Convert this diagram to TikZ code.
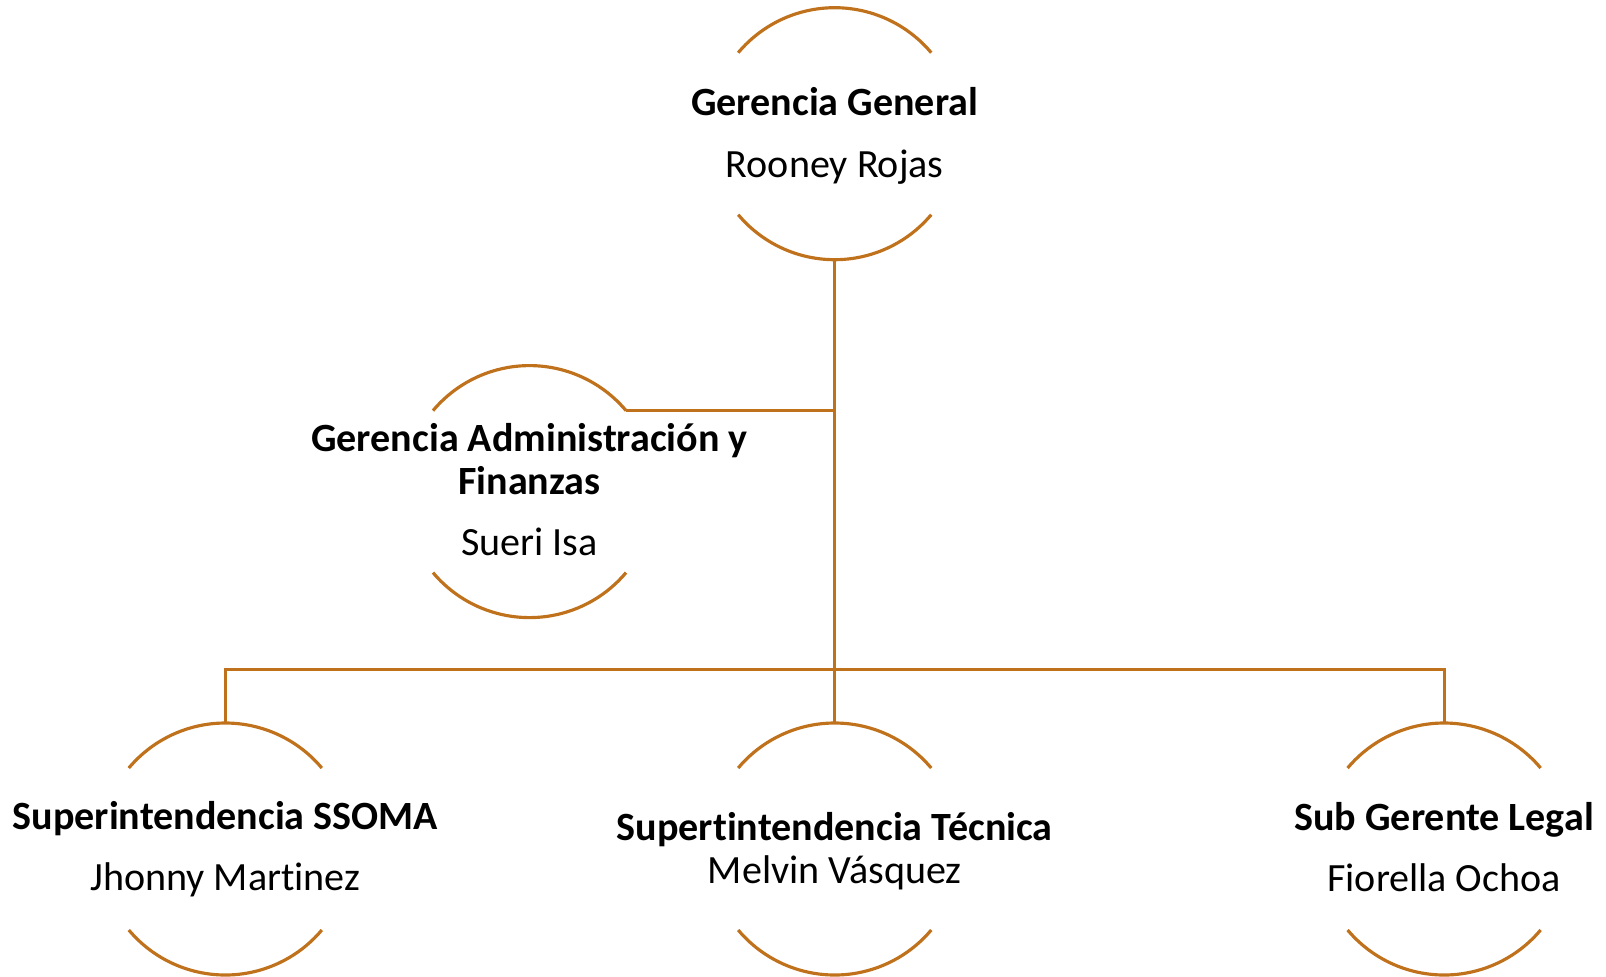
\documentclass[tikz,border=0pt]{standalone}
\usepackage{fontspec}
\setmainfont{Carlito}[Ligatures=NoCommon]
\definecolor{naranja}{RGB}{191,113,28}
\tikzset{
  anillo/.style={
    circle,
    minimum size=2.52cm,
    inner sep=0pt,
    outer sep=0pt
  }
}
\tikzset{
  texto/.style={
    align=center,
    inner sep=0pt,
    font=\fontsize{11.4}{12.2}\selectfont
  }
}
\tikzset{
  linea/.style={
    draw=naranja,
    line width=0.9pt
  }
}
\def\cargo#1#2{\textbf{#1}\\[5.3pt]#2}

\begin{document}
\begin{tikzpicture}
    \useasboundingbox (0,0) rectangle (16.06,-9.76);
    \node[anillo] (gg) at (8.347, -1.337) {};
    \node[anillo] (gaf) at (5.295, -4.916) {};
    \node[anillo] (ss) at (2.253, -8.49) {};
    \node[anillo] (st) at (8.347, -8.49) {};
    \node[anillo] (sgl) at (14.441, -8.49) {};
    \node[texto] (t-gg) at ([yshift=-0.02cm]gg) {\cargo{Gerencia General}{Rooney Rojas}};
    \node[texto] (t-gaf) at ([yshift=0.02cm]gaf) {\textbf{Gerencia Administración y}\\\textbf{Finanzas}\\[5.3pt]Sueri Isa};
    \node[texto] (t-ss) at (ss) {\cargo{Superintendencia SSOMA}{Jhonny Martinez}};
    \node[texto] (t-st) at ([yshift=-0.02cm]st) {\textbf{Supertintendencia Técnica}\\Melvin Vásquez};
    \node[texto] (t-sgl) at ([yshift=0.02cm]sgl) {\cargo{Sub Gerente Legal}{Fiorella Ochoa}};
    % arcos abiertos a los lados
    \foreach \n in {gg, gaf, ss, st, sgl} {
      \draw[linea] (\n.40) arc[start angle=40, end angle=140, radius=1.26cm];
      \draw[linea] (\n.220) arc[start angle=220, end angle=320, radius=1.26cm];
    }
    \coordinate (bus) at (8.347, -6.698);
    \draw[linea] (gg.south) to (st.north);
    \draw[linea] (ss.north) |- (bus) -| (sgl.north);
    \draw[linea] (gaf.40) to (gaf.40 -| gg.south);
\end{tikzpicture}
\end{document}
